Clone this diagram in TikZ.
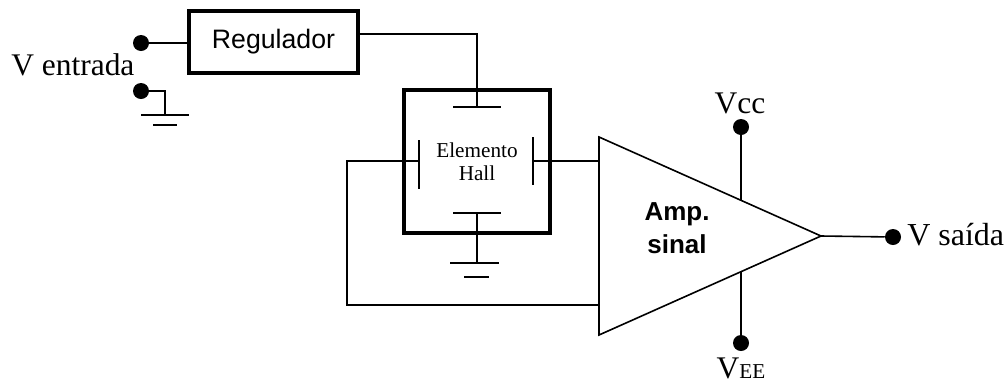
\documentclass[tikz,border=0pt]{standalone}
\usepackage{fontspec}
\setmainfont{Liberation Serif}
\setsansfont{Liberation Sans}
\usetikzlibrary{positioning,calc}

\begin{document}
\begin{tikzpicture}[
  x=0.75pt, y=-0.75pt,
  wire/.style={line width=1.2pt},
  term/.style={circle, fill=black, inner sep=0pt, minimum size=12pt},
  lab/.style={inner sep=0pt, font=\fontsize{23.6}{26}\selectfont},
  regbox/.style={draw, line width=2.5pt, outer sep=0pt, minimum width=126.75pt,
    minimum height=46.5pt, font=\sffamily\fontsize{20}{22}\selectfont},
  hallbox/.style={draw, line width=3.2pt, outer sep=0pt, minimum width=109.5pt,
    minimum height=107.5pt, align=center, font=\fontsize{15.9}{17.4}\selectfont},
]
\useasboundingbox (0,0) rectangle (1006,383);
% entrada
\node[term] (ent) at (141,43) {};
\node[term] (gnd) at (141,91) {};
\node[lab, anchor=base west] (lent) at (11,75) {V entrada};
\node[regbox] (reg) at (273.5,42) {Regulador};
\draw[wire] (ent) -- (ent -| reg.west);
\coordinate (gndc) at (165,91);
\coordinate (gnda) at (165,115);
\coordinate (gndl) at (141,115);
\coordinate (gndr) at (189,115);
\coordinate (gnds) at (153,125);
\coordinate (gndt) at (177,125);
\draw[wire] (gnd) -- (gndc) -- (gnda);
\draw[wire] (gndl) -- (gndr);
\draw[wire] (gnds) -- (gndt);
% elemento hall
\node[hallbox] (hall) at (477,161.5) {Elemento\\Hall};
\coordinate (regout) at (358,34);
\coordinate (regc) at (477,34);
\coordinate (ptop) at (477,107);
\coordinate (ptopl) at (453,107);
\coordinate (ptopr) at (501,107);
\draw[wire] (regout) -- (regc) -- (ptop);
\draw[wire] (ptopl) -- (ptopr);
\coordinate (pleft) at (419,161);
\coordinate (pleftt) at (419,140);
\coordinate (pleftb) at (419,189);
\coordinate (pright) at (533,161);
\coordinate (prightt) at (533,137);
\coordinate (prightb) at (533,185);
\draw[wire] (pleftt) -- (pleftb);
\draw[wire] (prightt) -- (prightb);
\coordinate (pbot) at (477,213);
\coordinate (pbotl) at (453,213);
\coordinate (pbotr) at (501,213);
\coordinate (hgnd) at (477,263);
\coordinate (hgndl) at (450,263);
\coordinate (hgndr) at (499,263);
\coordinate (hgnds) at (464,277);
\coordinate (hgndt) at (489,277);
\draw[wire] (pbotl) -- (pbotr);
\draw[wire] (pbot) -- (hgnd);
\draw[wire] (hgndl) -- (hgndr);
\draw[wire] (hgnds) -- (hgndt);
% amplificador
\coordinate (ampt) at (599,137);
\coordinate (ampb) at (599,335);
\coordinate (ampo) at (821,236);
\draw[wire, line join=miter] (ampt) -- (ampo) -- (ampb) -- cycle;
\node[align=center, inner sep=0pt, font=\sffamily\bfseries\fontsize{19.5}{24.5}\selectfont] (amp) at (677,228) {Amp.\\sinal};
\coordinate (loopa) at (347,161);
\coordinate (loopb) at (347,305);
\coordinate (loopc) at (599,305);
\draw[wire] (pleft) -- (loopa) -- (loopb) -- (loopc);
\draw[wire] (pright) -- (pright -| ampt);
% alimentacao e saida
\node[term] (vcc) at (741,127) {};
\node[term] (vee) at (741,343) {};
\node[term] (sai) at (893,237) {};
\coordinate (ampvcc) at (741,200);
\coordinate (ampvee) at (741,272);
\draw[wire] (vcc) -- (ampvcc);
\draw[wire] (vee) -- (ampvee);
\draw[wire] (ampo) -- (sai);
\node[lab, anchor=base] (lvcc) at (740,113) {Vcc};
\node[lab, anchor=base] (lvee) at (741,378) {V{\fontsize{15.9}{18}\selectfont EE}};
\node[lab, anchor=base west, font=\fontsize{24}{26}\selectfont] (lsai) at (907,245) {V saída};
\end{tikzpicture}
\end{document}
